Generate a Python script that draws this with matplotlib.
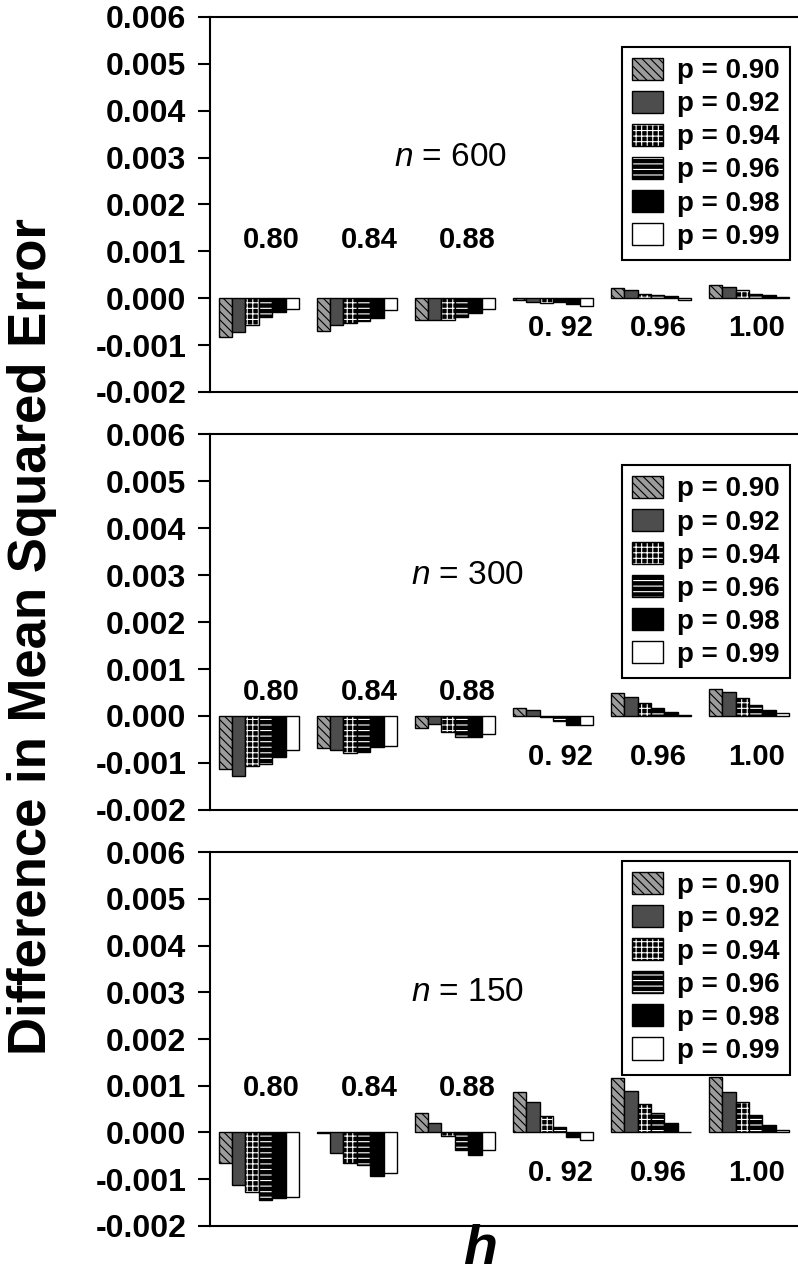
import matplotlib
matplotlib.use("Agg")
import matplotlib.pyplot as plt
import matplotlib.ticker as mticker
import numpy as np
from matplotlib.patches import Patch

plt.rcParams["font.family"] = ["Liberation Sans", "DejaVu Sans"]
plt.rcParams["mathtext.fontset"] = "custom"
plt.rcParams["mathtext.it"] = "Liberation Sans:italic"
plt.rcParams["mathtext.rm"] = "Liberation Sans"
plt.rcParams["hatch.linewidth"] = 0.8

# h groups along x, p series within each group
H_LABELS = ["0.80", "0.84", "0.88", "0. 92", "0.96", "1.00"]
P_LABELS = ["p = 0.90", "p = 0.92", "p = 0.94", "p = 0.96", "p = 0.98", "p = 0.99"]
N_VALUES = ["600", "300", "150"]

# difference in MSE, rows = h, columns = p
MSE_N600 = [
    [-0.00082, -0.00073, -0.00058, -0.00040, -0.00030, -0.00022],
    [-0.00071, -0.00058, -0.00053, -0.00049, -0.00042, -0.00025],
    [-0.00046, -0.00046, -0.00046, -0.00040, -0.00032, -0.00022],
    [-0.00004, -0.00007, -0.00011, -0.00007, -0.00013, -0.00016],
    [0.00021, 0.00017, 0.00009, 0.00006, 0.00004, -0.00004],
    [0.00028, 0.00025, 0.00017, 0.00010, 0.00006, 0.00003],
]
MSE_N300 = [
    [-0.00112, -0.00128, -0.00106, -0.00102, -0.00087, -0.00072],
    [-0.00069, -0.00073, -0.00078, -0.00076, -0.00066, -0.00064],
    [-0.00026, -0.00018, -0.00033, -0.00044, -0.00044, -0.00038],
    [0.00017, 0.00013, -0.00002, -0.00011, -0.00020, -0.00019],
    [0.00050, 0.00040, 0.00028, 0.00016, 0.00008, 0.00002],
    [0.00058, 0.00051, 0.00038, 0.00023, 0.00013, 0.00006],
]
MSE_N150 = [
    [-0.00066, -0.00112, -0.00127, -0.00144, -0.00140, -0.00138],
    [-0.00002, -0.00044, -0.00066, -0.00070, -0.00094, -0.00087],
    [0.00041, 0.00021, -0.00008, -0.00037, -0.00048, -0.00037],
    [0.00087, 0.00066, 0.00035, 0.00011, -0.00009, -0.00016],
    [0.00116, 0.00089, 0.00062, 0.00041, 0.00020, 0.00001],
    [0.00118, 0.00087, 0.00066, 0.00037, 0.00016, 0.00006],
]
PANELS = [MSE_N600, MSE_N300, MSE_N150]

# face, hatch, hatch colour
STYLES = [
    ("#9c9c9c", "\\\\\\\\", "black"),
    ("#4d4d4d", None, None),
    ("black", "+++", "white"),
    ("black", "---", "white"),
    ("black", None, None),
    ("white", None, None),
]

# text placement per panel
LABEL_Y = [(0.00124, -0.00063), (0.00051, -0.00087), (0.00095, -0.00087)]
N_X = [1.95, 2.13, 2.13]
LEG_TOP = [0.92, 0.917, 0.975]

fig = plt.figure(figsize=(7.98, 12.78), dpi=100)
ax_rects = [
    [0.263, 0.6933, 0.737, 0.2934],
    [0.263, 0.3662, 0.737, 0.2942],
    [0.263, 0.0407, 0.737, 0.2926],
]

bar_w = 0.137
x = np.arange(len(H_LABELS))

for k, (rect, data, n) in enumerate(zip(ax_rects, PANELS, N_VALUES)):
    ax = fig.add_axes(rect)
    vals = np.array(data)
    handles = []
    for j, (face, hatch, hcol) in enumerate(STYLES):
        pos = x + (j - 2.5) * bar_w
        if hatch is not None and hcol == "white":
            ax.bar(pos, vals[:, j], bar_w, color=face, edgecolor="white",
                   hatch=hatch, linewidth=0)
            ax.bar(pos, vals[:, j], bar_w, fill=False, edgecolor="black",
                   linewidth=1)
            h = (Patch(facecolor=face, edgecolor="white", hatch=hatch, linewidth=0),
                 Patch(fill=False, edgecolor="black", linewidth=1))
        else:
            ax.bar(pos, vals[:, j], bar_w, color=face, edgecolor="black",
                   hatch=hatch, linewidth=1)
            h = Patch(facecolor=face, edgecolor="black", hatch=hatch, linewidth=1)
        handles.append(h)

    up_y, lo_y = LABEL_Y[k]
    for i, lab in enumerate(H_LABELS):
        if i < 3:
            ax.text(x[i] + 0.13, up_y, lab, ha="center", va="center",
                    fontsize=21, fontweight="bold")
        else:
            ax.text(x[i] + 0.08, lo_y, lab, ha="center", va="center",
                    fontsize=21, fontweight="bold")

    ax.text(N_X[k], 0.003, r"$\it{n}$ = " + n, ha="center", va="center",
            fontsize=24)

    ax.set_xlim(-0.5, 5.5)
    ax.set_ylim(-0.002, 0.006)
    ax.set_yticks(np.arange(-0.002, 0.0061, 0.001))
    ax.yaxis.set_major_formatter(mticker.FormatStrFormatter("%.3f"))
    ax.set_xticks([])
    ax.tick_params(axis="y", direction="out", length=9, width=1.5, pad=8,
                   labelsize=23)
    for t in ax.get_yticklabels():
        t.set_fontweight("bold")
    ax.spines["right"].set_visible(False)
    for s in ("left", "top", "bottom"):
        ax.spines[s].set_linewidth(1.5)

    leg = ax.legend(handles, P_LABELS, loc="upper right",
                    bbox_to_anchor=(0.986, LEG_TOP[k]), fancybox=False,
                    edgecolor="black", framealpha=1,
                    prop={"weight": "bold", "size": 20},
                    handlelength=1.1, handleheight=0.85, handletextpad=0.5,
                    labelspacing=0.23, borderpad=0.38, borderaxespad=0)
    leg.get_frame().set_linewidth(1.5)

fig.text(0.04, 0.5016, "Difference in Mean Squared Error", rotation=90,
         ha="center", va="center", fontsize=38, fontweight="bold")
fig.text(0.6015, 0.022, "h", ha="center", va="center", fontsize=40,
         fontweight="bold", fontstyle="italic")

fig.savefig("out.png", dpi=100)
